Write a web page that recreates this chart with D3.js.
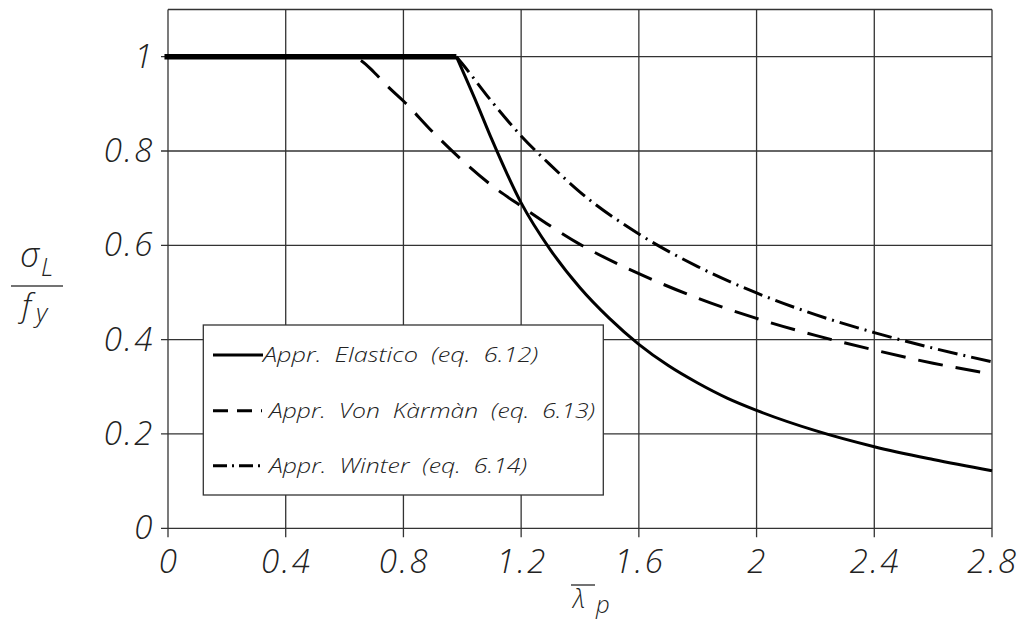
<!DOCTYPE html>
<html>
<head>
<meta charset="utf-8">
<script src="https://cdn.jsdelivr.net/npm/d3@7"></script>
<style>
  body { margin: 0; background: #fff; }
  svg { display: block; }
  text { font-family: 'Open Sans', 'Lato', sans-serif; font-style: italic; font-weight: 300; fill: #222; }
</style>
</head>
<body>
<svg id="chart" width="1023" height="629"></svg>
<script>
// values
const xTicks = [0, 0.4, 0.8, 1.2, 1.6, 2, 2.4, 2.8];
const yTicks = [0, 0.2, 0.4, 0.6, 0.8, 1];
const xTickLabels = ['0', '0.4', '0.8', '1.2', '1.6', '2', '2.4', '2.8'];
const yTickLabels = ['0', '0.2', '0.4', '0.6', '0.8', '1'];

const elasticX = [0, 0.98, 1.05, 1.1, 1.2, 1.3, 1.4, 1.5, 1.6, 1.7, 1.8, 1.9, 2.0, 2.2, 2.4, 2.6, 2.8];
const elasticY = [1, 1, 0.9, 0.825, 0.69, 0.59, 0.51, 0.445, 0.39, 0.345, 0.308, 0.276, 0.25, 0.207, 0.173, 0.146, 0.122];

const karmanX = [0, 0.4, 0.62, 0.66, 0.7, 0.75, 0.8, 0.9, 1.0, 1.1, 1.2, 1.4, 1.6, 1.8, 2.0, 2.2, 2.4, 2.6, 2.8];
const karmanY = [1, 1, 1, 0.99, 0.967, 0.935, 0.906, 0.84, 0.78, 0.727, 0.683, 0.602, 0.54, 0.488, 0.445, 0.409, 0.378, 0.35, 0.327];

const winterX = [0, 0.98, 1.0, 1.1, 1.2, 1.3, 1.4, 1.6, 1.8, 2.0, 2.2, 2.4, 2.6, 2.8];
const winterY = [1, 1, 0.985, 0.905, 0.832, 0.77, 0.713, 0.624, 0.555, 0.499, 0.453, 0.415, 0.382, 0.353];

const legendLabels = ['Appr.  Elastico  (eq.  6.12)', 'Appr.  Von  Kàrmàn  (eq.  6.13)', 'Appr.  Winter  (eq.  6.14)'];

const series = [
  {xs: elasticX, ys: elasticY, dash: null, curveFrom: 1},
  {xs: karmanX, ys: karmanY, dash: '25,13', curveFrom: 1},
  {xs: winterX, ys: winterY, dash: '20,6,2,6', curveFrom: 1},
];

const svg = d3.select('#chart');
const x = d3.scaleLinear().domain([0, 2.8]).range([168, 992]);
const y = d3.scaleLinear().domain([0, 1.1]).range([528.3, 9.5]);
const gridColor = '#333';

// grid + ticks
const grid = svg.append('g').attr('stroke', gridColor).attr('stroke-width', 1.3);
grid.selectAll('line.v')
  .data(xTicks)
  .join('line')
  .attr('class', 'v')
  .attr('x1', (d) => x(d))
  .attr('x2', (d) => x(d))
  .attr('y1', y(1.1))
  .attr('y2', y(0) + 9);
grid.selectAll('line.h')
  .data(yTicks)
  .join('line')
  .attr('class', 'h')
  .attr('x1', x(0) - 7)
  .attr('x2', x(2.8))
  .attr('y1', (d) => y(d))
  .attr('y2', (d) => y(d));
grid.append('line')
  .attr('x1', x(0)).attr('x2', x(2.8))
  .attr('y1', y(1.1)).attr('y2', y(1.1));

// tick labels
svg.append('g').selectAll('text')
  .data(xTicks)
  .join('text')
  .attr('x', (d) => x(d) + 1)
  .attr('y', y(0) + 45)
  .attr('text-anchor', 'middle')
  .attr('font-size', 33)
  .attr('letter-spacing', 2.5)
  .text((d, i) => xTickLabels[i]);
svg.append('g').selectAll('text')
  .data(yTicks)
  .join('text')
  .attr('x', x(0) - 13)
  .attr('y', (d) => y(d) + 11)
  .attr('text-anchor', 'end')
  .attr('font-size', 33)
  .attr('letter-spacing', 2.5)
  .text((d, i) => yTickLabels[i]);

// axis titles
const yt = svg.append('g');
yt.append('text').attr('x', 20).attr('y', 267).attr('font-size', 34).text('σ');
yt.append('text').attr('x', 41).attr('y', 276).attr('font-size', 25).text('L');
yt.append('line').attr('x1', 11).attr('x2', 63).attr('y1', 286).attr('y2', 286)
  .attr('stroke', '#444').attr('stroke-width', 1.5);
yt.append('text').attr('x', 22).attr('y', 317).attr('font-size', 32).text('f');
yt.append('text').attr('x', 36).attr('y', 322).attr('font-size', 26).text('y');

const xt = svg.append('g');
xt.append('text').attr('x', 573).attr('y', 608).attr('font-size', 25).text('λ');
xt.append('line').attr('x1', 571).attr('x2', 595).attr('y1', 585).attr('y2', 585)
  .attr('stroke', '#444').attr('stroke-width', 1.5);
xt.append('text').attr('x', 596).attr('y', 613).attr('font-size', 24).text('p');

// legend box (drawn before curves so the curves sit on top where they cross it)
const lg = svg.append('g');
lg.append('rect')
  .attr('x', 203.3).attr('y', 325).attr('width', 400).attr('height', 170)
  .attr('fill', '#fff').attr('stroke', gridColor).attr('stroke-width', 1.3);

// curves
const line = d3.line()
  .x((d) => x(d[0]))
  .y((d) => y(d[1]))
  .curve(d3.curveMonotoneX);
const flatLine = d3.line().x((d) => x(d[0])).y((d) => y(d[1]));

series.forEach((s) => {
  const pts = s.xs.map((v, i) => [v, s.ys[i]]);
  svg.append('path')
    .attr('d', line(pts.slice(s.curveFrom)))
    .attr('fill', 'none')
    .attr('stroke', '#000')
    .attr('stroke-width', 3)
    .attr('stroke-dasharray', s.dash);
});
// common plateau at 1, drawn heavy as in the reference
svg.append('path')
  .attr('d', flatLine([[elasticX[0] - 0.012, elasticY[0]], [elasticX[1], elasticY[1]]]))
  .attr('fill', 'none')
  .attr('stroke', '#000')
  .attr('stroke-width', 5.5);

// legend entries
const entryY = [355, 410.7, 465.7];
const textX = [263, 269, 269];
const textW = [275, 326, 258];
const sampleDash = [null, '15,9', '14,5,2,5'];
series.forEach((s, i) => {
  lg.append('line')
    .attr('x1', 213).attr('x2', i === 0 ? 263 : 262)
    .attr('y1', entryY[i]).attr('y2', entryY[i])
    .attr('stroke', '#000').attr('stroke-width', 3)
    .attr('stroke-dasharray', sampleDash[i]);
  lg.append('text')
    .attr('x', textX[i])
    .attr('y', entryY[i] + 7)
    .attr('font-size', 20)
    .attr('font-weight', 400)
    .attr('textLength', textW[i])
    .attr('lengthAdjust', 'spacingAndGlyphs')
    .style('white-space', 'pre')
    .text(legendLabels[i]);
});
</script>
</body>
</html>
